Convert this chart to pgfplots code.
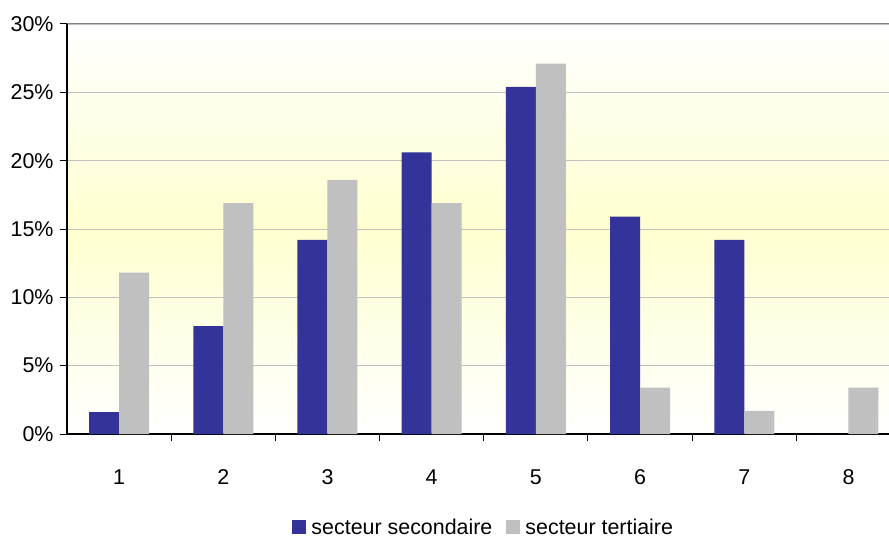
\documentclass[border=0pt]{standalone}
\usepackage{pgfplots}
\pgfplotsset{compat=1.18}
\usepackage{fontspec}
\setmainfont{Liberation Sans}
\definecolor{sec}{RGB}{51,51,153}
\definecolor{ter}{RGB}{192,192,192}
\definecolor{midy}{RGB}{255,255,208}
\begin{document}
\begin{tikzpicture}
\begin{axis}[
  name=ax,
  at={(0,0)}, anchor=south west,
  scale only axis,
  width=822bp, height=410bp,
  xmin=0.5, xmax=8.389,
  ymin=0, ymax=30,
  axis lines*=left,
  axis line style={black, line width=1.2bp},
  axis background/.style={top color=white, bottom color=white, middle color=midy},
  ybar=0pt, bar width=30bp,
  xtick={1,...,8},
  major x tick style={draw=none},
  minor xtick={1.5,2.5,...,7.5},
  minor tick length=7bp,
  every minor tick/.style={black, line width=1bp},
  ytick={0,5,...,30},
  major tick length=7bp,
  tick align=outside,
  every major y tick/.style={black, line width=1bp},
  ymajorgrids,
  grid style={color=ter, line width=0.8bp},
  yticklabel={\pgfmathprintnumber{\tick}\%},
  /pgf/number format/assume math mode=true,
  tick label style={font=\fontsize{21.5}{25}\selectfont},
  xticklabel style={yshift=-25bp},
  yticklabel style={xshift=-3bp},
  legend style={at={(0.507,-0.227)}, anchor=center, draw=none, fill=none,
    legend columns=-1, font=\fontsize{21.5}{25}\selectfont, column sep=3bp},
  legend image code/.code={\fill[#1] (0bp,-7bp) rectangle (14bp,7bp);},
  clip=false,
]
\addplot[fill=sec, draw=none] coordinates {(1,1.6) (2,7.9) (3,14.2) (4,20.6) (5,25.4) (6,15.9) (7,14.2) (8,0)};
\addplot[fill=ter, draw=none] coordinates {(1,11.8) (2,16.9) (3,18.6) (4,16.9) (5,27.1) (6,3.4) (7,1.7) (8,3.4)};
\legend{secteur secondaire\rule{9bp}{0pt}, secteur tertiaire}
\draw[gray, line width=1bp] (rel axis cs:0,1) -- (rel axis cs:1,1);
\end{axis}
\pgfresetboundingbox
\path[use as bounding box] (-67bp,-105bp) rectangle (822bp,434bp);
\end{tikzpicture}
\end{document}
